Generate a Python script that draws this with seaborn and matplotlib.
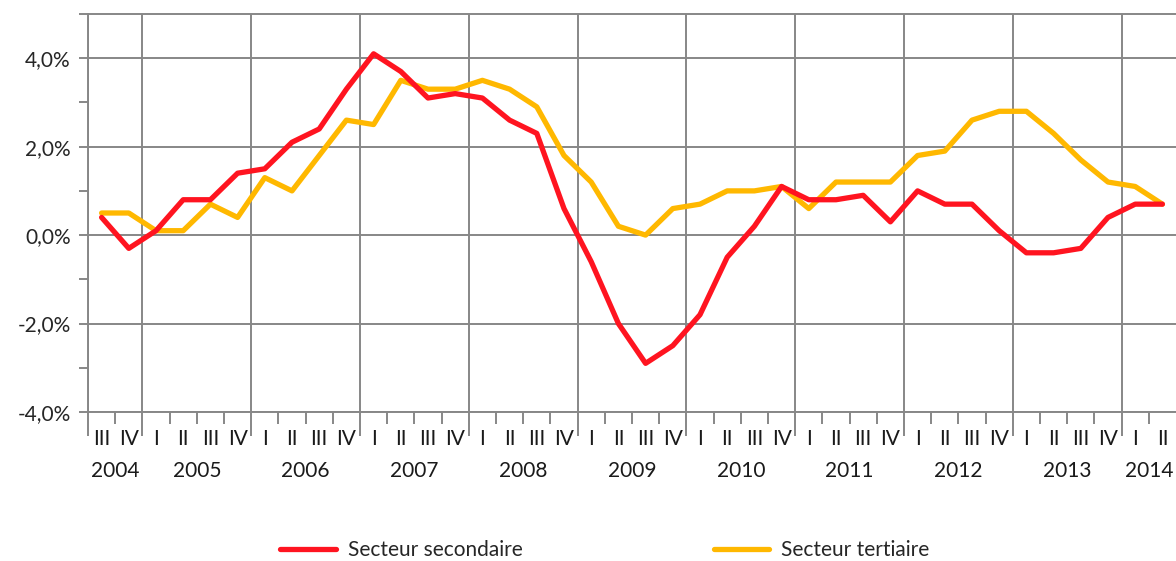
import matplotlib
matplotlib.use('Agg')
import matplotlib.pyplot as plt
import matplotlib.ticker as mticker
import pandas as pd
import numpy as np
import seaborn as sb

sb.set_style("white")
plt.rcParams['font.family'] = ['Lato', 'DejaVu Sans']

years = ['2004', '2005', '2006', '2007', '2008', '2009', '2010', '2011', '2012', '2013', '2014']
quarters = ['III', 'IV'] + ['I', 'II', 'III', 'IV'] * 9 + ['I', 'II']
secondaire = [0.4, -0.3, 0.1, 0.8, 0.8, 1.4, 1.5, 2.1, 2.4, 3.3,
              4.1, 3.7, 3.1, 3.2, 3.1, 2.6, 2.3, 0.6, -0.6, -2.0,
              -2.9, -2.5, -1.8, -0.5, 0.2, 1.1, 0.8, 0.8, 0.9, 0.3,
              1.0, 0.7, 0.7, 0.1, -0.4, -0.4, -0.3, 0.4, 0.7, 0.7]
tertiaire = [0.5, 0.5, 0.1, 0.1, 0.7, 0.4, 1.3, 1.0, 1.8, 2.6,
             2.5, 3.5, 3.3, 3.3, 3.5, 3.3, 2.9, 1.8, 1.2, 0.2,
             0.0, 0.6, 0.7, 1.0, 1.0, 1.1, 0.6, 1.2, 1.2, 1.2,
             1.8, 1.9, 2.6, 2.8, 2.8, 2.3, 1.7, 1.2, 1.1, 0.7]

red = '#ff1420'
yellow = '#ffb800'
grey = '#878787'
fs = 15

pos = np.arange(len(quarters)) + 0.5
df = pd.DataFrame({'pos': pos, 'secondaire': secondaire, 'tertiaire': tertiaire})

# year boundaries (in quarter units)
n_q = [2] + [4] * 9 + [2]
bounds = np.concatenate([[0], np.cumsum(n_q)])

fig = plt.figure(figsize=(11.76, 5.61), dpi=100)
ax = fig.add_axes([88 / 1176, 1 - 412 / 561, 1 - 88 / 1176, (412 - 14) / 561])

sb.lineplot(data=df, x='pos', y='tertiaire', color=yellow, linewidth=3.8, ax=ax, label='Secteur tertiaire')
sb.lineplot(data=df, x='pos', y='secondaire', color=red, linewidth=3.8, ax=ax, label='Secteur secondaire')
ax.get_legend().remove()

ax.set_xlim(0, len(quarters))
ax.set_ylim(-4, 5)
ax.set_xlabel('')
ax.set_ylabel('')

# y axis
ax.set_yticks([-4, -2, 0, 2, 4])
ax.set_yticks([-3, -1, 1, 3, 5], minor=True)
ax.yaxis.set_major_formatter(mticker.FuncFormatter(lambda v, p: f"{v:.1f}%".replace('.', ',')))
ax.tick_params(axis='y', which='both', length=6.5, width=1.4, color=grey, labelsize=fs, pad=6, left=True)
ax.grid(axis='y', which='major', color=grey, linewidth=1.4)

# x axis
ax.set_xticks(bounds[:-1])
ax.set_xticks([i for i in range(1, len(quarters)) if i not in bounds], minor=True)
ax.set_xticklabels([])
ax.tick_params(axis='x', which='major', length=17, width=1.4, color=grey, bottom=True)
ax.tick_params(axis='x', which='minor', length=8.5, width=1.4, color=grey, bottom=True)
ax.grid(axis='x', which='major', color=grey, linewidth=1.4)

for s in ['left', 'top', 'bottom']:
    ax.spines[s].set_color(grey)
    ax.spines[s].set_linewidth(1.4)
ax.spines['right'].set_visible(False)

trans = ax.get_xaxis_transform()
for p, q in zip(pos, quarters):
    ax.text(p, -27 / 398, q, transform=trans, ha='center', va='center', fontsize=fs, color='#1a1a1a')
for k, y in enumerate(years):
    ax.text((bounds[k] + bounds[k + 1]) / 2, -59 / 398, y, transform=trans,
            ha='center', va='center', fontsize=fs, color='#1a1a1a')

h, l = ax.get_legend_handles_labels()
order = [l.index('Secteur secondaire'), l.index('Secteur tertiaire')]
fig.legend([h[i] for i in order], [l[i] for i in order], loc='center',
           bbox_to_anchor=(605 / 1176, 1 - 550 / 561), ncol=2, frameon=False,
           fontsize=fs, handlelength=2.65, handletextpad=0.58, columnspacing=9.2)

fig.savefig('out.png', dpi=100)
